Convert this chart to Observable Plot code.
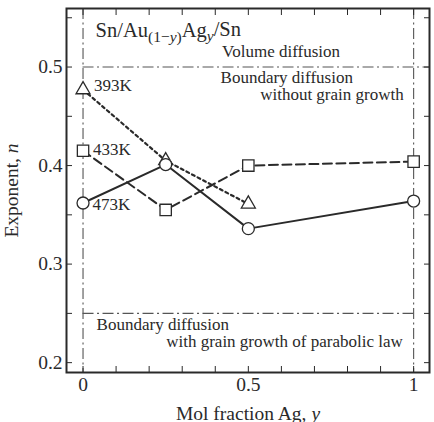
<!DOCTYPE html>
<html>
<head>
<meta charset="utf-8">
<script src="https://cdn.jsdelivr.net/npm/d3@7"></script>
<script src="https://cdn.jsdelivr.net/npm/@observablehq/plot@0.6"></script>
<style>
  body { margin: 0; background: #fff; }
  svg { display: block; }
  #chart svg, #chart svg text { font-family: "Liberation Serif", "DejaVu Serif", serif !important; }
</style>
</head>
<body>
<div id="chart"></div>
<script>
// Growth exponent n versus Ag mol fraction y in Sn/Au(1-y)Ag(y)/Sn couples
const temperatures = ["393K", "433K", "473K"];
const y393 = [0, 0.25, 0.5];
const n393 = [0.477, 0.405, 0.361];
const y433 = [0, 0.25, 0.5, 1];
const n433 = [0.415, 0.355, 0.400, 0.404];
const y473 = [0, 0.25, 0.5, 1];
const n473 = [0.362, 0.401, 0.336, 0.364];

const xTickLabels = [0, 0.5, 1];
const yTickLabels = [0.2, 0.3, 0.4, 0.5];
const xMinorTicks = [0, 0.1, 0.2, 0.3, 0.4, 0.5, 0.6, 0.7, 0.8, 0.9, 1];
const yMinorTicks = [0.2, 0.25, 0.3, 0.35, 0.4, 0.45, 0.5, 0.55];

// Regime boundaries (dash-dot guides)
const regimeX = [0, 1];
const volumeBoundary = 0.5;
const parabolicBoundary = 0.25;

const font = "Liberation Serif";
const ink = "#2a2a2a";
const guide = "#555";
const dashDot = "11,3.5,2,3.5";
const noteSize = 17;

const rows = (ys, ns, t) => ys.map((y, i) => ({y, n: ns[i], t}));
const s393 = rows(y393, n393, temperatures[0]);
const s433 = rows(y433, n433, temperatures[1]);
const s473 = rows(y473, n473, temperatures[2]);

const series = [
  {data: s393, symbol: "triangle", r: 5.2, dash: "3,3.3", width: 2.2, label: {dx: 11, dy: -4}},
  {data: s433, symbol: "square", r: 6.4, dash: "9,4.5", width: 2, label: {dx: 10, dy: -1}},
  {data: s473, symbol: "circle", r: 6, dash: null, width: 2, label: {dx: 9.5, dy: 2}}
];

const plot = Plot.plot({
  width: 434,
  height: 422,
  marginLeft: 66,
  marginRight: 5,
  marginTop: 8,
  marginBottom: 50,
  style: {fontFamily: font, fontSize: "19px", color: ink, background: "#fff"},
  x: {domain: [-0.05, 1.048]},
  y: {domain: [0.19, 0.5594]},
  marks: [
    // dash-dot regime guides
    Plot.ruleX(regimeX, {stroke: guide, strokeWidth: 1.1, strokeDasharray: dashDot}),
    Plot.ruleY([volumeBoundary], {x1: 0, x2: 1.048, stroke: guide, strokeWidth: 1.1, strokeDasharray: dashDot}),
    Plot.ruleY([parabolicBoundary], {x1: 0, x2: 1, stroke: guide, strokeWidth: 1.1, strokeDasharray: dashDot}),

    // inward ticks on all four sides
    Plot.axisX(xMinorTicks, {anchor: "bottom", tickSize: -6, tickFormat: () => "", label: null, stroke: ink, strokeWidth: 1}),
    Plot.axisX(xMinorTicks, {anchor: "top", tickSize: -6, tickFormat: () => "", label: null, stroke: ink, strokeWidth: 1}),
    Plot.axisY(yMinorTicks, {anchor: "left", tickSize: -6, tickFormat: () => "", label: null, stroke: ink, strokeWidth: 1}),
    Plot.axisY(yMinorTicks, {anchor: "right", tickSize: -6, tickFormat: () => "", label: null, stroke: ink, strokeWidth: 1}),

    // tick labels and axis titles
    Plot.axisX(xTickLabels, {anchor: "bottom", tickSize: 0, tickPadding: 5, tickFormat: d => String(d),
      label: "Mol fraction Ag, y", labelAnchor: "center", labelOffset: 47, fontSize: 19.5, fontFamily: font, fill: ink}),
    Plot.axisY(yTickLabels, {anchor: "left", tickSize: 0, tickPadding: 4, tickFormat: d => d.toFixed(1),
      label: "Exponent, n", labelAnchor: "center", labelOffset: 62, fontSize: 19.5, fontFamily: font, fill: ink}),

    // series lines
    ...series.map(s => Plot.line(s.data, {x: "y", y: "n", stroke: ink, strokeWidth: s.width, strokeDasharray: s.dash})),
    // open markers
    ...series.map(s => Plot.dot(s.data, {x: "y", y: "n", symbol: s.symbol, r: s.r, fill: "white", stroke: ink, strokeWidth: 1.3})),
    // temperature labels next to the y = 0 points
    ...series.map(s => Plot.text(s.data.slice(0, 1), {x: "y", y: "n", text: "t", textAnchor: "start",
      dx: s.label.dx, dy: s.label.dy, fontSize: 17, fontFamily: font, fill: ink})),

    // regime annotations
    Plot.text(["Volume diffusion"], {x: 0.599, y: 0.5, dy: -15, fontSize: noteSize, fontFamily: font, fill: ink, textAnchor: "middle"}),
    Plot.text(["Boundary diffusion"], {x: 0.416, y: 0.5, dy: 11, fontSize: noteSize, fontFamily: font, fill: ink, textAnchor: "start"}),
    Plot.text(["without grain growth"], {x: 0.97, y: 0.5, dy: 28, fontSize: noteSize, fontFamily: font, fill: ink, textAnchor: "end"}),
    Plot.text(["Boundary diffusion"], {x: 0.041, y: 0.25, dy: 11.5, fontSize: noteSize, fontFamily: font, fill: ink, textAnchor: "start"}),
    Plot.text(["with grain growth of parabolic law"], {x: 0.967, y: 0.25, dy: 28.5, fontSize: noteSize, fontFamily: font, fill: ink, textAnchor: "end"}),
    Plot.text(["Sn/Au(1−y)Agy/Sn"], {x: 0.038, y: 0.5594, dy: 22, fontSize: 20.5, fontFamily: font, fill: ink, textAnchor: "start"}),

    Plot.frame({stroke: ink, strokeWidth: 2})
  ]
});

const svg = d3.select(plot);

// Italic symbol in axis titles
function italicTail(sel, head, tail) {
  sel.text(null);
  sel.append("tspan").text(head);
  sel.append("tspan").attr("font-style", "italic").text(tail);
}
svg.selectAll("text").each(function () {
  const el = d3.select(this);
  const t = el.text();
  if (t.startsWith("Mol fraction Ag")) italicTail(el, "Mol fraction Ag, ", "y");
  else if (t.startsWith("Exponent")) italicTail(el, "Exponent, ", "n");
  else if (t === "Sn/Au(1−y)Agy/Sn") {
    el.text(null);
    el.append("tspan").text("Sn/Au");
    const sub1 = el.append("tspan").attr("dy", "0.3em").attr("font-size", "15.5px");
    sub1.append("tspan").text("(1−");
    sub1.append("tspan").attr("font-style", "italic").text("y");
    sub1.append("tspan").text(")");
    el.append("tspan").attr("dy", "-0.25em").text("Ag");
    el.append("tspan").attr("dy", "0.3em").attr("font-size", "15.5px").attr("font-style", "italic").text("y");
    el.append("tspan").attr("dy", "-0.25em").text("/Sn");
  }
});

document.getElementById("chart").appendChild(plot);
</script>
</body>
</html>
